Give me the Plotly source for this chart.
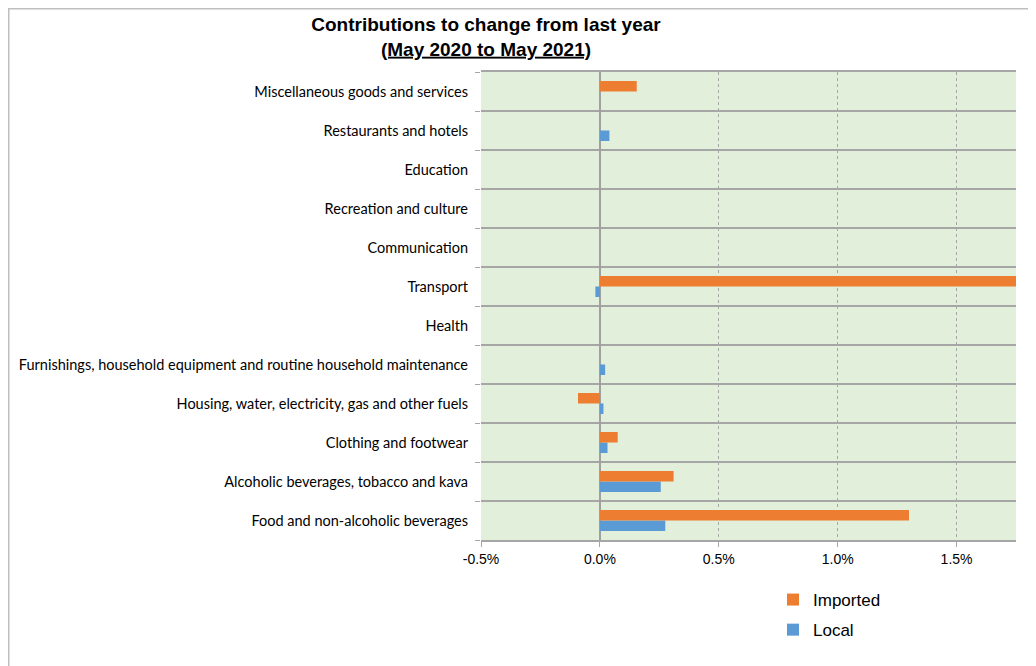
import plotly.graph_objects as go

categories = [
    "Food and non-alcoholic beverages",
    "Alcoholic beverages, tobacco and kava",
    "Clothing and footwear",
    "Housing, water, electricity, gas and other fuels",
    "Furnishings, household equipment and routine household maintenance",
    "Health",
    "Transport",
    "Communication",
    "Recreation and culture",
    "Education",
    "Restaurants and hotels",
    "Miscellaneous goods and services",
]
imported = [1.30, 0.31, 0.075, -0.092, 0.0, 0.0, 1.80, 0.0, 0.0, 0.0, 0.0, 0.155]
local = [0.275, 0.256, 0.032, 0.015, 0.022, 0.0, -0.019, 0.0, 0.0, 0.0, 0.04, 0.0]
x_ticks = [-0.5, 0.0, 0.5, 1.0, 1.5]
x_tick_labels = ["-0.5%", "0.0%", "0.5%", "1.0%", "1.5%"]

# page body has an 8px margin; figure coordinates = screen - 8
OFF = 8
W, H = 1036 - OFF, 666 - OFF
L, R, T, B = 481 - OFF, 1016 - OFF, 72 - OFF, 540 - OFF

fig = go.Figure()
fig.add_trace(go.Bar(y=categories, x=local, orientation="h", name="Local",
                     marker=dict(color="#5B9BD5", line=dict(width=0)),
                     legendrank=2, legendgroup="b"))
fig.add_trace(go.Bar(y=categories, x=imported, orientation="h", name="Imported",
                     marker=dict(color="#ED7D31", line=dict(width=0)),
                     legendrank=1, legendgroup="a"))

def px(xs):
    return (xs - OFF - L) / (R - L)

def py(ys):
    return (B - (ys - OFF)) / (B - T)

fig.update_layout(
    width=W, height=H,
    margin=dict(l=L, r=W - R, t=T, b=H - B, autoexpand=False),
    paper_bgcolor="white",
    plot_bgcolor="#E2EFDA",
    barmode="group",
    bargap=0.46,
    bargroupgap=0.0,
    font=dict(family="Liberation Sans, Arial, sans-serif", color="#000000"),
    title=dict(
        text="<b>Contributions to change from last year<br><u>(May 2020 to May 2021)</u></b>",
        x=(486 - OFF) / W, xref="container", xanchor="center",
        y=1 - 23 / H, yref="container", yanchor="top",
        font=dict(size=19, family="Liberation Sans, Arial, sans-serif", color="#000000"),
    ),
    xaxis=dict(
        range=[-0.5, 1.75],
        tickvals=x_ticks, ticktext=x_tick_labels,
        showgrid=True, gridcolor="#A6A6A6", griddash="dot", gridwidth=1,
        zeroline=True, zerolinecolor="#A0A0A0", zerolinewidth=1.5,
        showline=True, linecolor="#A6A6A6", linewidth=1.5, mirror=True,
        ticks="outside", ticklen=5, tickcolor="#A6A6A6",
        tickfont=dict(size=14, family="Liberation Sans, Arial, sans-serif"),
        fixedrange=True,
    ),
    yaxis=dict(
        type="category",
        categoryorder="array", categoryarray=categories,
        tickson="boundaries",
        showgrid=True, gridcolor="#A6A6A6", gridwidth=1.5,
        ticks="outside", ticklen=5, tickcolor="#A6A6A6",
        showline=False,
        tickfont=dict(size=14.5, family="Lato, Carlito, sans-serif"),
        ticklabelstandoff=12,
        fixedrange=True,
    ),
    legend=dict(
        x=px(773), y=py(582), xanchor="left", yanchor="top",
        traceorder="grouped", tracegroupgap=5,
        font=dict(size=17, family="Liberation Sans, Arial, sans-serif"),
        bgcolor="rgba(0,0,0,0)",
    ),
    showlegend=True,
    shapes=[
        dict(type="path", xref="paper", yref="paper",
             path=f"M {px(8.5)} {py(700)} L {px(8.5)} {py(8.5)} L {px(1100)} {py(8.5)}",
             line=dict(color="#BFBFBF", width=2)),
    ],
)

fig.write_html("out.html")
